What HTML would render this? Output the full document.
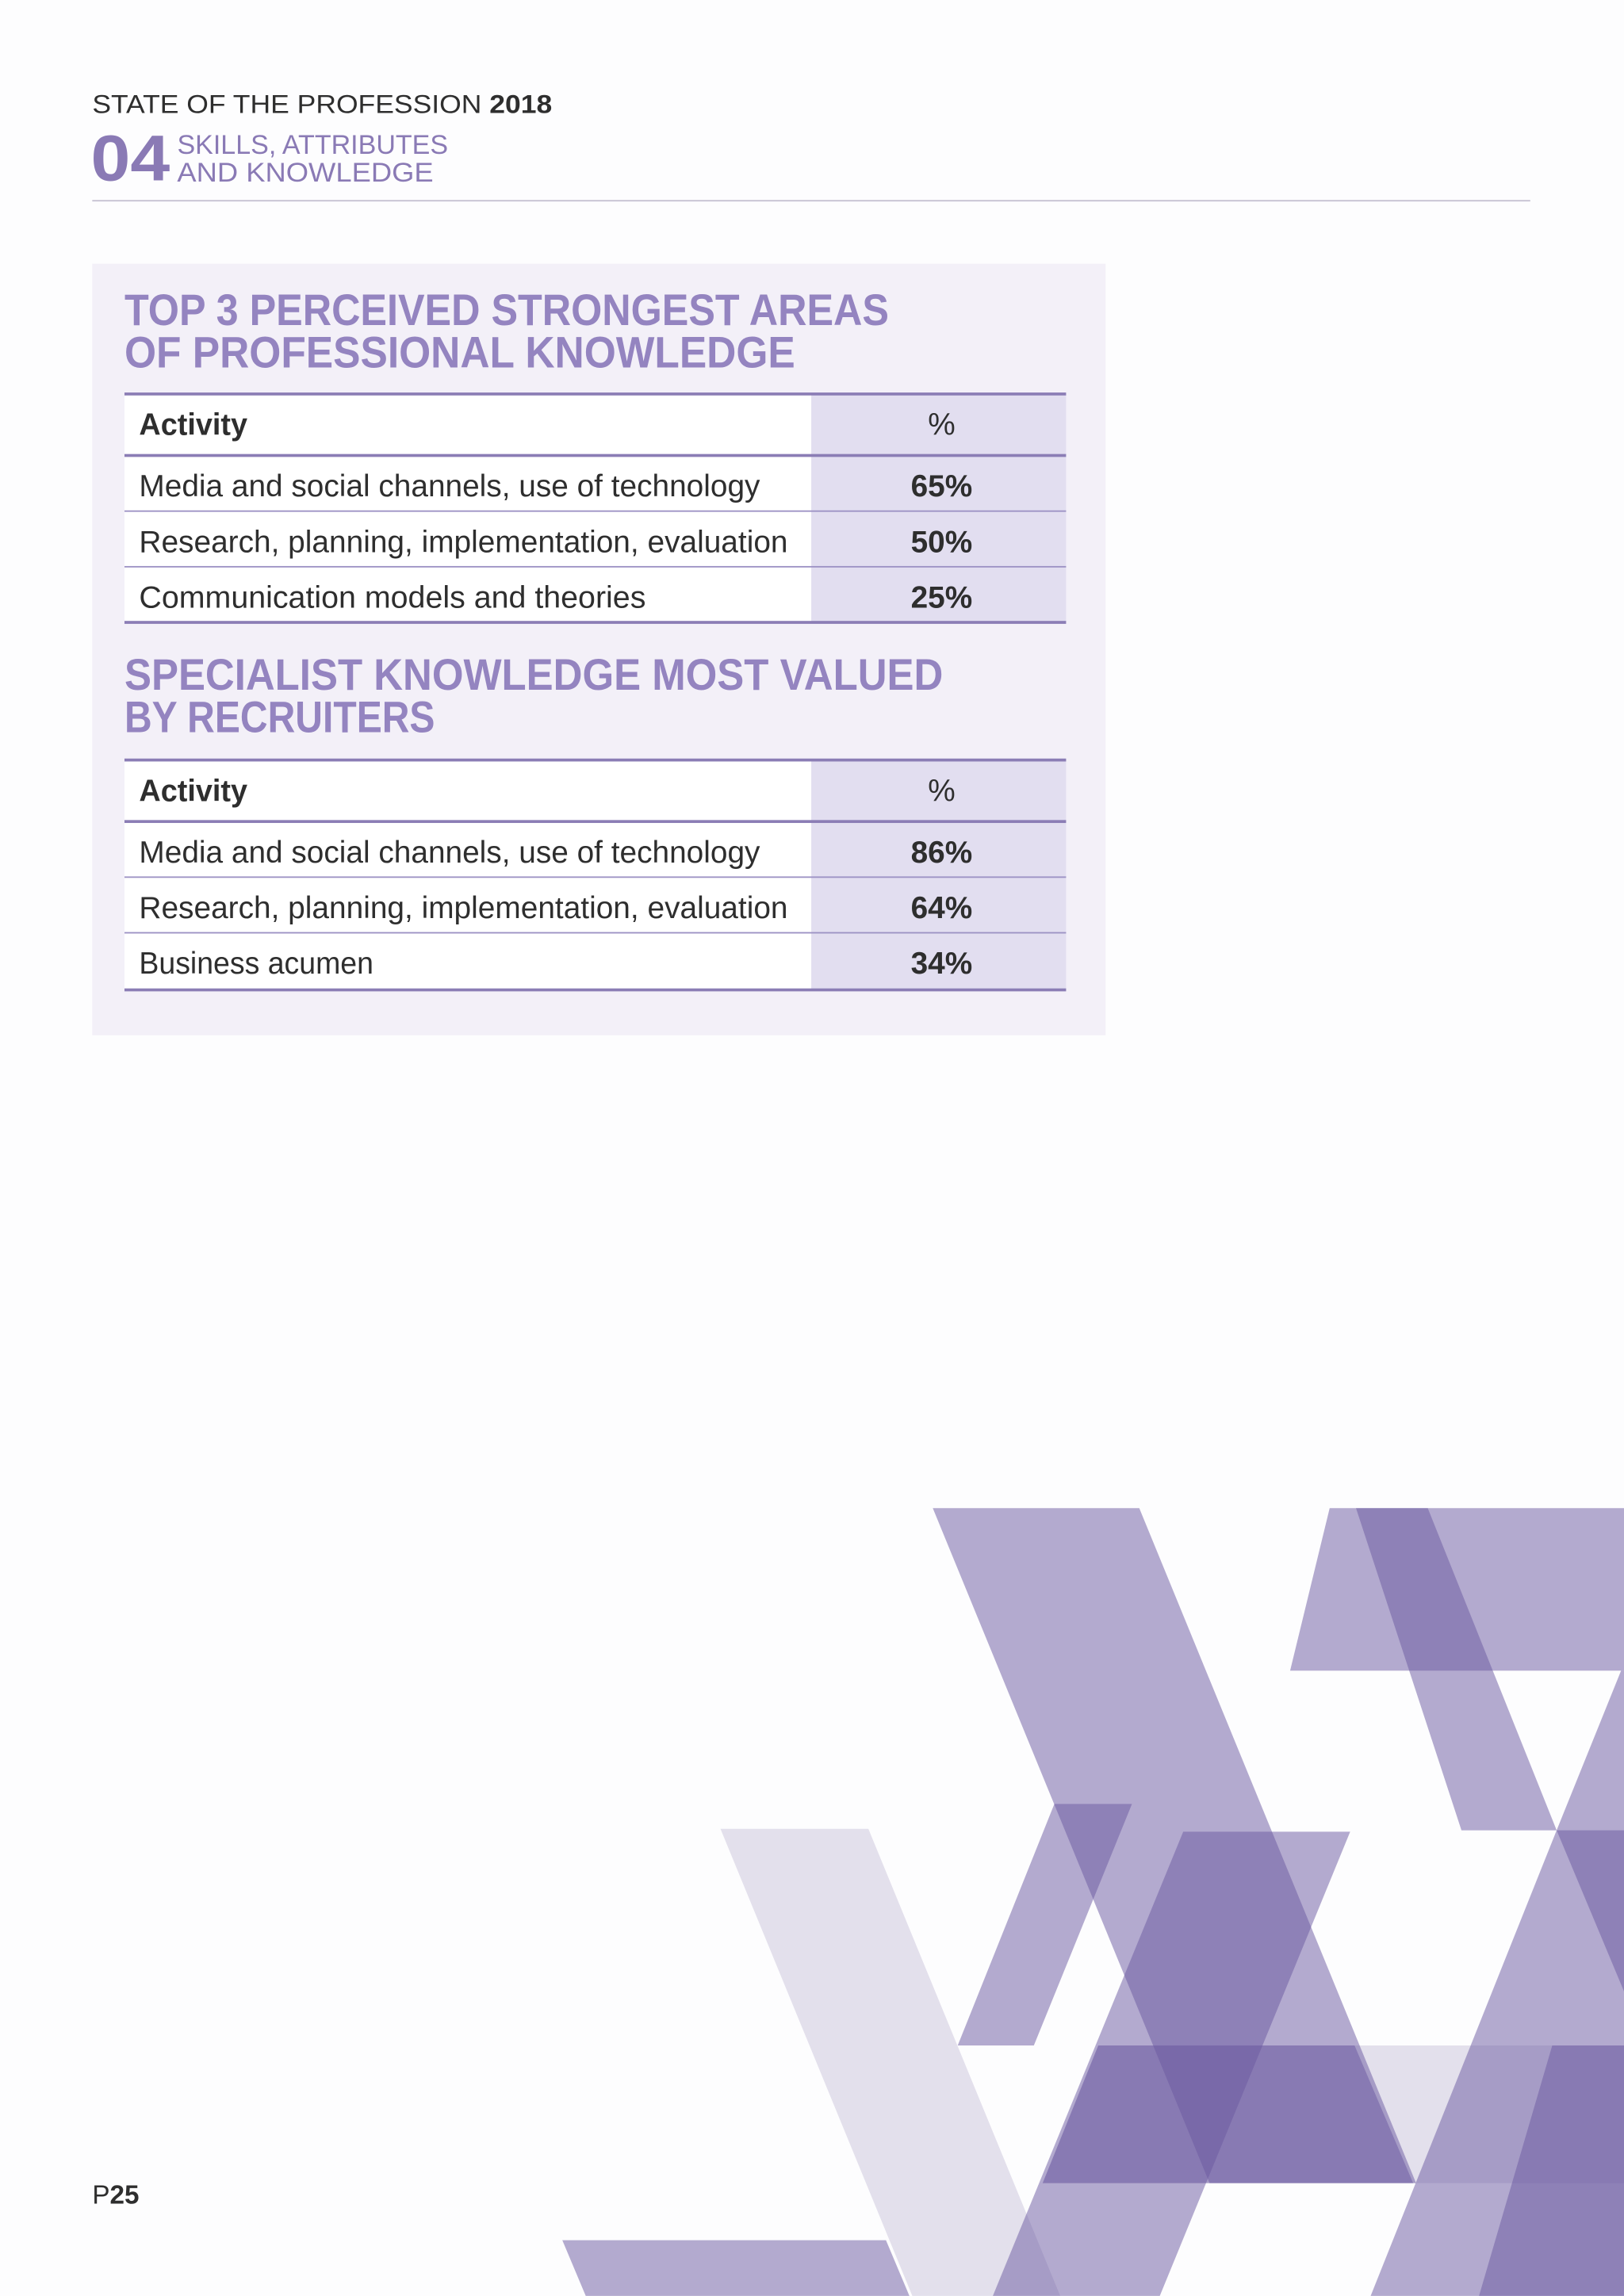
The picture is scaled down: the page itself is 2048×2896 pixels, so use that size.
<!DOCTYPE html>
<html><head><meta charset="utf-8"><style>html,body{margin:0;padding:0;background:#fdfdfe}svg{display:block}text{font-family:"Liberation Sans",sans-serif}</style></head>
<body>
<svg width="2048" height="2896" viewBox="0 0 1109 1568" xmlns="http://www.w3.org/2000/svg">
<rect x="0" y="0" width="1109" height="1568" fill="#fdfdfe"/>
<g>
<text x="63" y="77" font-size="17.5" fill="#2e2e2e" textLength="314" lengthAdjust="spacingAndGlyphs">STATE OF THE PROFESSION <tspan font-weight="bold">2018</tspan></text>
<text x="62" y="123" font-size="44" font-weight="bold" fill="#8a7ab5" textLength="54" lengthAdjust="spacingAndGlyphs">04</text>
<text x="121" y="105" font-size="18.5" fill="#8a7ab5" textLength="185" lengthAdjust="spacingAndGlyphs">SKILLS, ATTRIBUTES</text>
<text x="121" y="124" font-size="18.5" fill="#8a7ab5" textLength="175" lengthAdjust="spacingAndGlyphs">AND KNOWLEDGE</text>
<rect x="63" y="136.5" width="982" height="1" fill="#c6c2d2"/>
</g>
<g>
<rect x="63" y="180" width="692" height="527" fill="#f3f0f8"/>
<text x="85" y="222" font-size="30" font-weight="bold" fill="#9484c0" textLength="522" lengthAdjust="spacingAndGlyphs">TOP 3 PERCEIVED STRONGEST AREAS</text>
<text x="85" y="251" font-size="30" font-weight="bold" fill="#9484c0" textLength="458" lengthAdjust="spacingAndGlyphs">OF PROFESSIONAL KNOWLEDGE</text>
<g>
<rect x="85" y="269" width="469" height="156" fill="#ffffff"/>
<rect x="554" y="269" width="174" height="156" fill="#e2def0"/>
<rect x="85" y="268" width="643" height="2" fill="#8b7db5"/>
<rect x="85" y="310" width="643" height="2" fill="#8b7db5"/>
<rect x="85" y="348.5" width="643" height="1" fill="#9d92c4"/>
<rect x="85" y="386.5" width="643" height="1" fill="#9d92c4"/>
<rect x="85" y="424" width="643" height="2" fill="#8b7db5"/>
<text x="95" y="297" font-size="21" font-weight="bold" fill="#2e2e2e" textLength="74" lengthAdjust="spacingAndGlyphs">Activity</text>
<text x="643" y="297" font-size="21" fill="#2e2e2e" text-anchor="middle">%</text>
<text x="95" y="339" font-size="21" fill="#2e2e2e" textLength="424" lengthAdjust="spacingAndGlyphs">Media and social channels, use of technology</text>
<text x="643" y="339" font-size="21" font-weight="bold" fill="#2e2e2e" text-anchor="middle">65%</text>
<text x="95" y="377" font-size="21" fill="#2e2e2e" textLength="443" lengthAdjust="spacingAndGlyphs">Research, planning, implementation, evaluation</text>
<text x="643" y="377" font-size="21" font-weight="bold" fill="#2e2e2e" text-anchor="middle">50%</text>
<text x="95" y="415" font-size="21" fill="#2e2e2e" textLength="346" lengthAdjust="spacingAndGlyphs">Communication models and theories</text>
<text x="643" y="415" font-size="21" font-weight="bold" fill="#2e2e2e" text-anchor="middle">25%</text>
</g>
<text x="85" y="471" font-size="30" font-weight="bold" fill="#9484c0" textLength="559" lengthAdjust="spacingAndGlyphs">SPECIALIST KNOWLEDGE MOST VALUED</text>
<text x="85" y="500" font-size="30" font-weight="bold" fill="#9484c0" textLength="212" lengthAdjust="spacingAndGlyphs">BY RECRUITERS</text>
<g>
<rect x="85" y="519" width="469" height="157" fill="#ffffff"/>
<rect x="554" y="519" width="174" height="157" fill="#e2def0"/>
<rect x="85" y="518" width="643" height="2" fill="#8b7db5"/>
<rect x="85" y="560" width="643" height="2" fill="#8b7db5"/>
<rect x="85" y="598.5" width="643" height="1" fill="#9d92c4"/>
<rect x="85" y="636.5" width="643" height="1" fill="#9d92c4"/>
<rect x="85" y="675" width="643" height="2" fill="#8b7db5"/>
<text x="95" y="547" font-size="21" font-weight="bold" fill="#2e2e2e" textLength="74" lengthAdjust="spacingAndGlyphs">Activity</text>
<text x="643" y="547" font-size="21" fill="#2e2e2e" text-anchor="middle">%</text>
<text x="95" y="589" font-size="21" fill="#2e2e2e" textLength="424" lengthAdjust="spacingAndGlyphs">Media and social channels, use of technology</text>
<text x="643" y="589" font-size="21" font-weight="bold" fill="#2e2e2e" text-anchor="middle">86%</text>
<text x="95" y="627" font-size="21" fill="#2e2e2e" textLength="443" lengthAdjust="spacingAndGlyphs">Research, planning, implementation, evaluation</text>
<text x="643" y="627" font-size="21" font-weight="bold" fill="#2e2e2e" text-anchor="middle">64%</text>
<text x="95" y="665" font-size="21" fill="#2e2e2e" textLength="160" lengthAdjust="spacingAndGlyphs">Business acumen</text>
<text x="643" y="665" font-size="21" font-weight="bold" fill="#2e2e2e" text-anchor="middle">34%</text>
</g>
</g>
<g>
<polygon points="492,1249 593,1249 724,1568 623,1568" fill="#e3e0ec"/>
<polygon points="750,1397 1109,1397 1109,1491 712,1491" fill="#e3e0ec"/>
<g fill="#6a58a0" fill-opacity="0.5">
<polygon points="637,1030 778,1030 967,1491 826,1491"/>
<polygon points="808,1251 922,1251 792,1568 678,1568"/>
<polygon points="720,1232 773,1232 706,1397 654,1397"/>
<polygon points="384,1530 605,1530 621,1568 400,1568"/>
<polygon points="908,1030 1109,1030 1109,1141 881,1141"/>
<polygon points="926,1030 975,1030 1063,1250 998,1250"/>
<polygon points="1107,1141 1109,1141 1109,1568 936,1568 1063,1250"/>
<polygon points="1063,1250 1109,1250 1109,1360"/>
<polygon points="750,1397 925,1397 965,1491 712,1491"/>
<polygon points="1060,1397 1109,1397 1109,1568 1010,1568"/>
</g>
</g>
<text x="63" y="1505" font-size="18" fill="#2e2e2e">P<tspan font-weight="bold">25</tspan></text>
</svg>
</body></html>
